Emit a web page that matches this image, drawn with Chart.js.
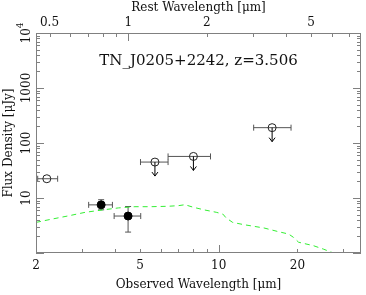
<!DOCTYPE html>
<html lang="en">
  <head>
    <meta charset="UTF-8" />
    <script src="https://cdn.jsdelivr.net/npm/chart.js"></script>
    <title>TN_J0205+2242 SED</title>
    <style>
      body { margin: 0; background: #fff; }
    </style>
  </head>
  <body>
    <canvas id="myChart" width="366" height="295"></canvas>

    <script>
      // redshift, used for the rest-frame axis on top
      const redshift = 3.506;

      // model SED (green dashed line)
      const sedWave = [2.0, 2.31, 2.67, 3.09, 3.58, 4.13, 4.78, 5.52, 6.38, 7.0, 7.43, 7.98, 8.84, 9.78, 10.37, 10.67, 11.3, 12.5, 14.9, 16.7, 18.5, 19.3, 20.2, 23.0, 25.1, 27.0, 28.5];
      const sedFlux = [3.6, 4.15, 4.75, 5.5, 6.05, 6.6, 6.95, 6.95, 7.07, 7.25, 7.55, 6.8, 6.05, 5.5, 5.1, 4.35, 3.6, 3.27, 2.85, 2.48, 2.21, 1.93, 1.57, 1.36, 1.18, 1.03, 0.95];

      // detections (filled circles)
      const detWave = [3.55, 4.5];
      const detWaveLo = [3.18, 3.98];
      const detWaveHi = [3.92, 5.03];
      const detFlux = [7.5, 4.7];
      const detFluxLo = [6.1, 2.4];
      const detFluxHi = [9.3, 7.0];

      // K band point (open circle)
      const kWave = [2.2];
      const kWaveLo = [2.03];
      const kWaveHi = [2.42];
      const kFlux = [22.4];

      // upper limits (open circles with arrows)
      const limWave = [5.7, 8.0, 16.0];
      const limWaveLo = [5.02, 6.4, 13.6];
      const limWaveHi = [6.4, 9.3, 18.9];
      const limFlux = [45, 57, 190];

      // axis ticks
      const obsMajor = [10];
      const obsMinor = [2, 3, 4, 5, 6, 7, 8, 9, 20, 30];
      const obsLabels = [2, 5, 10, 20];
      const restMajor = [1];
      const restMinor = [0.5, 0.6, 0.7, 0.8, 0.9, 2, 3, 4, 5, 6, 7];
      const restLabels = [0.5, 1, 2, 5];
      const fluxMajor = [1, 10, 100, 1000, 10000];
      const fluxLabels = ["", "10", "100", "1000", "10^4"];

      const serif = "'DejaVu Serif', 'Liberation Serif', serif";
      const frameColor = "#808080";
      const errColor = "#555555";
      const textColor = "#111111";

      function pts(xs, ys) {
        return xs.map((v, i) => ({ x: v, y: ys[i] }));
      }

      // frame, inward ticks, labels, error bars and arrows
      const sedAxes = {
        id: "sedAxes",
        beforeDatasetsDraw(chart) {
          const ctx = chart.ctx;
          const xs = chart.scales.x, ys = chart.scales.y;
          ctx.save();
          ctx.strokeStyle = errColor;
          ctx.lineWidth = 1;
          const hbar = (lo, hi, v) => {
            const x0 = xs.getPixelForValue(lo), x1 = xs.getPixelForValue(hi), yy = ys.getPixelForValue(v);
            ctx.beginPath();
            ctx.moveTo(x0, yy); ctx.lineTo(x1, yy);
            ctx.moveTo(x0, yy - 3); ctx.lineTo(x0, yy + 3);
            ctx.moveTo(x1, yy - 3); ctx.lineTo(x1, yy + 3);
            ctx.stroke();
          };
          const vbar = (v, lo, hi) => {
            const xx = xs.getPixelForValue(v), y0 = ys.getPixelForValue(lo), y1 = ys.getPixelForValue(hi);
            ctx.beginPath();
            ctx.moveTo(xx, y0); ctx.lineTo(xx, y1);
            ctx.moveTo(xx - 3, y0); ctx.lineTo(xx + 3, y0);
            ctx.moveTo(xx - 3, y1); ctx.lineTo(xx + 3, y1);
            ctx.stroke();
          };
          detWave.forEach((w, i) => {
            hbar(detWaveLo[i], detWaveHi[i], detFlux[i]);
            vbar(w, detFluxLo[i], detFluxHi[i]);
          });
          kWave.forEach((w, i) => hbar(kWaveLo[i], kWaveHi[i], kFlux[i]));
          limWave.forEach((w, i) => hbar(limWaveLo[i], limWaveHi[i], limFlux[i]));

          // arrows for the limits
          ctx.strokeStyle = "#000";
          limWave.forEach((w, i) => {
            const xx = xs.getPixelForValue(w), yy = ys.getPixelForValue(limFlux[i]);
            const tip = yy + 14;
            ctx.beginPath();
            ctx.moveTo(xx, yy); ctx.lineTo(xx, tip);
            ctx.moveTo(xx - 3, tip - 4); ctx.lineTo(xx, tip); ctx.lineTo(xx + 3, tip - 4);
            ctx.stroke();
          });
          ctx.restore();
        },
        afterDraw(chart) {
          const ctx = chart.ctx, a = chart.chartArea;
          const xs = chart.scales.x, x2 = chart.scales.x2, ys = chart.scales.y;
          ctx.save();
          ctx.strokeStyle = frameColor;
          ctx.lineWidth = 1;
          ctx.strokeRect(a.left + 0.5, a.top + 0.5, a.right - a.left - 1, a.bottom - a.top - 1);

          ctx.beginPath();
          const tickX = (scale, vals, len) => vals.forEach((v) => {
            const px = Math.round(scale.getPixelForValue(v)) + 0.5;
            ctx.moveTo(px, a.bottom); ctx.lineTo(px, a.bottom - len);
          });
          const tickTop = (scale, vals, len) => vals.forEach((v) => {
            const px = Math.round(scale.getPixelForValue(v)) + 0.5;
            ctx.moveTo(px, a.top); ctx.lineTo(px, a.top + len);
          });
          tickX(xs, obsMajor, 8); tickX(xs, obsMinor, 4);
          tickTop(x2, restMajor, 8); tickTop(x2, restMinor, 4);
          for (let d = 1; d <= 10000; d *= 10) {
            for (let m = 1; m < 10; m++) {
              const v = d * m;
              if (v > 10000) break;
              const py = Math.round(ys.getPixelForValue(v)) + 0.5;
              const len = m === 1 ? 8 : 4;
              ctx.moveTo(a.left, py); ctx.lineTo(a.left + len, py);
              ctx.moveTo(a.right, py); ctx.lineTo(a.right - len, py);
            }
          }
          ctx.stroke();

          // tick labels
          ctx.fillStyle = textColor;
          ctx.font = "12px " + serif;
          ctx.textAlign = "center";
          ctx.textBaseline = "middle";
          obsLabels.forEach((v) => ctx.fillText(String(v), xs.getPixelForValue(v), 266));
          restLabels.forEach((v) => ctx.fillText(String(v), x2.getPixelForValue(v), 23));

          fluxMajor.forEach((v, i) => {
            const lab = fluxLabels[i];
            if (!lab) return;
            ctx.save();
            ctx.translate(27, ys.getPixelForValue(v));
            ctx.rotate(-Math.PI / 2);
            if (lab.indexOf("^") > 0) {
              const [base, sup] = lab.split("^");
              ctx.font = "12px " + serif;
              const wb = ctx.measureText(base).width;
              ctx.font = "9px " + serif;
              const ws = ctx.measureText(sup).width;
              const start = -(wb + ws) / 2;
              ctx.textAlign = "left";
              ctx.font = "12px " + serif;
              ctx.fillText(base, start, 0);
              ctx.font = "9px " + serif;
              ctx.fillText(sup, start + wb, -6);
            } else {
              ctx.fillText(lab, 0, 0);
            }
            ctx.restore();
          });

          // axis titles
          const cx = (a.left + a.right) / 2, cy = (a.top + a.bottom) / 2;
          ctx.font = "12px " + serif;
          ctx.fillText("Observed Wavelength [\u03bcm]", cx, 285);
          ctx.fillText("Rest Wavelength [\u03bcm]", cx, 8);
          ctx.save();
          ctx.translate(9, cy);
          ctx.rotate(-Math.PI / 2);
          ctx.fillText("Flux Density [\u03bcJy]", 0, 0);
          ctx.restore();

          ctx.font = "15px " + serif;
          ctx.fillText("TN_J0205+2242, z=3.506", cx, 61);
          ctx.restore();
        },
      };

      const config = {
        type: "scatter",
        data: {
          datasets: [
            {
              label: "model",
              data: pts(sedWave, sedFlux),
              showLine: true,
              borderColor: "#33ee33",
              borderWidth: 1,
              borderDash: [5, 4],
              pointRadius: 0,
              fill: false,
            },
            {
              label: "detections",
              data: pts(detWave, detFlux),
              pointRadius: 4,
              backgroundColor: "#000",
              borderColor: "#000",
            },
            {
              label: "K",
              data: pts(kWave, kFlux),
              pointRadius: 4,
              borderWidth: 1,
              backgroundColor: "rgba(0,0,0,0)",
              borderColor: "#222",
            },
            {
              label: "limits",
              data: pts(limWave, limFlux),
              pointRadius: 4,
              borderWidth: 1,
              backgroundColor: "rgba(0,0,0,0)",
              borderColor: "#222",
            },
          ],
        },
        options: {
          responsive: false,
          animation: false,
          devicePixelRatio: 1,
          layout: { padding: { left: 0, top: 0, right: 1, bottom: 0 } },
          plugins: { legend: { display: false }, tooltip: { enabled: false } },
          scales: {
            x: {
              type: "logarithmic",
              position: "bottom",
              min: 2,
              max: 35,
              grid: { display: false },
              border: { display: false },
              ticks: { display: false },
              afterFit: (s) => { s.height = 42; },
            },
            x2: {
              type: "logarithmic",
              position: "top",
              min: 2 / (1 + redshift),
              max: 35 / (1 + redshift),
              grid: { display: false },
              border: { display: false },
              ticks: { display: false },
              afterFit: (s) => { s.height = 33; },
            },
            y: {
              type: "logarithmic",
              position: "left",
              min: 1,
              max: 10000,
              grid: { display: false },
              border: { display: false },
              ticks: { display: false },
              afterFit: (s) => { s.width = 36; },
            },
          },
        },
        plugins: [sedAxes],
      };

      new Chart(document.getElementById("myChart"), config);
    </script>
  </body>
</html>
